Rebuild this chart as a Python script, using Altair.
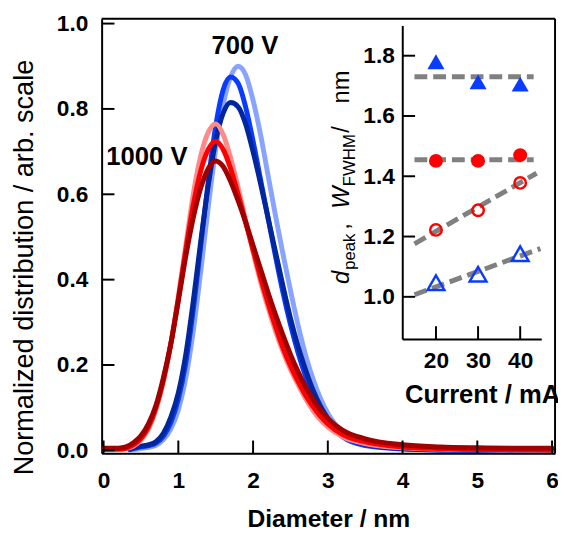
import altair as alt
import pandas as pd

FONT = "Liberation Sans"

# ---------------- main chart data ----------------
diam_1000 = [0.0, 0.2, 0.3, 0.4, 0.5, 0.6, 0.7, 0.8, 0.9, 1.0, 1.1, 1.2, 1.3,
             1.4, 1.5, 1.6, 1.7, 1.8, 1.9, 2.0, 2.1, 2.2, 2.3,
             2.4, 2.5, 2.6, 2.7, 2.8, 2.9, 3.0,
             3.2, 3.5, 4.0, 4.5, 5.0, 5.5, 6.0]
diam_700 = [0.35, 0.4, 0.5, 0.6, 0.7, 0.8, 0.9, 1.0, 1.1, 1.2, 1.3,
            1.4, 1.5, 1.6, 1.7, 1.8, 1.9, 2.0, 2.1, 2.2, 2.3,
            2.4, 2.5, 2.6, 2.7, 2.8, 2.9, 3.0,
            3.2, 3.5, 4.0, 4.5, 5.0, 5.5, 6.0]

v700_20 = [0.001, 0.002, 0.004, 0.007, 0.012, 0.025, 0.05, 0.095, 0.17, 0.28,
           0.42, 0.57, 0.705, 0.81, 0.875, 0.9, 0.88, 0.82, 0.74, 0.645,
           0.55, 0.46, 0.375, 0.295, 0.225, 0.168, 0.122, 0.087, 0.042, 0.015,
           0.004, 0.001, 0.001, 0.0, 0.0]
v700_30 = [0.002, 0.004, 0.008, 0.011, 0.017, 0.033, 0.065, 0.12, 0.205, 0.33,
           0.48, 0.63, 0.76, 0.845, 0.875, 0.86, 0.805, 0.725, 0.635, 0.545,
           0.455, 0.37, 0.295, 0.23, 0.175, 0.13, 0.093, 0.065, 0.031, 0.011,
           0.003, 0.001, 0.0, 0.0, 0.0]
v700_40 = [0.003, 0.006, 0.01, 0.013, 0.02, 0.04, 0.078, 0.135, 0.225, 0.35,
           0.49, 0.62, 0.725, 0.79, 0.815, 0.805, 0.765, 0.7, 0.625, 0.545,
           0.465, 0.385, 0.31, 0.245, 0.19, 0.142, 0.104, 0.075, 0.037, 0.014,
           0.004, 0.001, 0.001, 0.0, 0.0]

v1000_20 = [0.002, 0.002, 0.004,
            0.01, 0.024, 0.05, 0.095, 0.16, 0.25, 0.36, 0.48, 0.6, 0.69,
            0.745, 0.765, 0.74, 0.685, 0.615, 0.54, 0.465, 0.395, 0.335, 0.28,
            0.232, 0.19, 0.155, 0.122, 0.094, 0.072, 0.055,
            0.032, 0.016, 0.006, 0.003, 0.002, 0.001, 0.001]
v1000_30 = [0.003, 0.003, 0.005,
            0.013, 0.028, 0.055, 0.1, 0.165, 0.25, 0.355, 0.47, 0.575, 0.655,
            0.705, 0.724, 0.705, 0.66, 0.6, 0.535, 0.47, 0.405, 0.345, 0.29,
            0.24, 0.198, 0.162, 0.13, 0.103, 0.08, 0.062,
            0.037, 0.02, 0.008, 0.004, 0.002, 0.002, 0.001]
v1000_40 = [0.005, 0.005, 0.008,
            0.018, 0.034, 0.062, 0.105, 0.17, 0.25, 0.35, 0.455, 0.545, 0.615,
            0.66, 0.678, 0.665, 0.63, 0.585, 0.535, 0.48, 0.425, 0.37, 0.318,
            0.27, 0.225, 0.185, 0.15, 0.12, 0.095, 0.075,
            0.047, 0.027, 0.013, 0.008, 0.006, 0.005, 0.005]

series = [
    ("700 V 20 mA", diam_700, v700_20, "#88a4ff"),
    ("700 V 30 mA", diam_700, v700_30, "#0a3cff"),
    ("700 V 40 mA", diam_700, v700_40, "#00279e"),
    ("1000 V 20 mA", diam_1000, v1000_20, "#ff8a8a"),
    ("1000 V 30 mA", diam_1000, v1000_30, "#ff0000"),
    ("1000 V 40 mA", diam_1000, v1000_40, "#a00000"),
]

x_ticks = [0, 1, 2, 3, 4, 5, 6]
y_ticks = [0.0, 0.2, 0.4, 0.6, 0.8, 1.0]

ann_text = ["700 V", "1000 V"]
ann_x = [1.892, 0.58]
ann_y = [0.948, 0.686]

# inset y-title pieces (main-plot data coordinates)
tit_it_text = ["d", "W"]
tit_it_y = [0.390, 0.566]
tit_sub_text = ["peak", "FWHM"]
tit_sub_y = [0.423, 0.619]
tit_norm_text = [",", "/", "nm"]
tit_norm_y = [0.517, 0.744, 0.813]
tit_x_main = 3.284
tit_x_sub = 3.363

# ---------------- inset data ----------------
current = [20, 30, 40]
dpeak_700 = [1.78, 1.713, 1.706]
dpeak_1000 = [1.451, 1.451, 1.47]
wfwhm_1000 = [1.222, 1.287, 1.378]
wfwhm_700 = [1.047, 1.075, 1.143]

fit_x0 = [14.9, 14.9, 14.9, 14.9]
fit_x1 = [43.2, 43.2, 43.9, 44.8]
fit_y0 = [1.73, 1.455, 1.176, 1.007]
fit_y1 = [1.73, 1.455, 1.41, 1.16]

in_x_ticks = [20, 30, 40]
in_y_ticks = [1.0, 1.2, 1.4, 1.6, 1.8]

# ---------------- geometry ----------------
W, H = 460, 441
TICK = 13
IN_LEFT = 305
IN_RIGHT = 446
IN_BOTTOM = 325
IN_TOP = 7

XDOM = [-0.026, 6.04]
YDOM = [-0.007, 1.0115]
IXDOM = [12, 45]
IYDOM = [0.86, 1.9]

xs_main = alt.Scale(domain=XDOM, nice=False, zero=False)
ys_main = alt.Scale(domain=YDOM, nice=False, zero=False)
xs_in = alt.Scale(domain=IXDOM, range=[IN_LEFT, IN_RIGHT], nice=False, zero=False)
ys_in = alt.Scale(domain=IYDOM, range=[IN_BOTTOM, IN_TOP], nice=False, zero=False)

# tick lengths expressed in each scale's units
tl_main_y = TICK * (YDOM[1] - YDOM[0]) / H
tl_main_x = TICK * (XDOM[1] - XDOM[0]) / W
tl_in_y = TICK * (IYDOM[1] - IYDOM[0]) / (IN_BOTTOM - IN_TOP)
tl_in_x = TICK * (IXDOM[1] - IXDOM[0]) / (IN_RIGHT - IN_LEFT)

SOLID_SHORT = [20, 1]
SOLID_LONG = [3000, 1]

lab = dict(labelFont=FONT, labelFontSize=23, labelFontWeight="bold", labelColor="black")

ax_x_main = alt.Axis(orient="bottom", values=x_ticks, format="d", ticks=False,
                     domain=True, domainColor="black", domainWidth=2, grid=False,
                     labelPadding=17, title="Diameter / nm", titleFont=FONT,
                     titleFontSize=25, titleFontWeight="bold", titleColor="black",
                     titlePadding=14, **lab)
ax_y_main = alt.Axis(orient="left", values=y_ticks, format=".1f", ticks=False,
                     domain=True, domainColor="black", domainWidth=2, grid=False,
                     labelPadding=14, title="Normalized distribution / arb. scale",
                     titleFont=FONT, titleFontSize=27.5, titleFontWeight="normal",
                     titleColor="black", titleX=-64, titleY=252, **lab)


def MX(axis=None, f="x"):
    return alt.X(f"{f}:Q", scale=xs_main, axis=axis)


def MY(axis=None, f="y"):
    return alt.Y(f"{f}:Q", scale=ys_main, axis=axis)


layers = []
for i, (name, xv, yv, col) in enumerate(series):
    df = pd.DataFrame({"x": xv, "y": yv})
    enc = dict(x=MX(ax_x_main), y=MY(ax_y_main)) if i == 0 else dict(x=MX(), y=MY())
    layers.append(
        alt.Chart(df).mark_line(color=col, strokeWidth=5, interpolate="monotone",
                                strokeCap="round", strokeJoin="round").encode(**enc)
    )

# inward tick marks of the main axes
xt_df = pd.DataFrame({"x": x_ticks, "y": [YDOM[0]] * len(x_ticks),
                      "y2": [YDOM[0] + tl_main_y] * len(x_ticks)})
layers.append(alt.Chart(xt_df).mark_rule(color="black", strokeWidth=2, strokeDash=SOLID_SHORT)
              .encode(x=MX(), y=MY(), y2="y2:Q"))
yt_df = pd.DataFrame({"y": y_ticks, "x": [XDOM[0]] * len(y_ticks),
                      "x2": [XDOM[0] + tl_main_x] * len(y_ticks)})
layers.append(alt.Chart(yt_df).mark_rule(color="black", strokeWidth=2, strokeDash=SOLID_SHORT)
              .encode(y=MY(), x=MX(), x2="x2:Q"))

# top and right edges of the plot frame
frame_df = pd.DataFrame({"x": [XDOM[0], XDOM[1]], "x2": [XDOM[1], XDOM[1]],
                         "y": [YDOM[1], YDOM[0]], "y2": [YDOM[1], YDOM[1]]})
layers.append(alt.Chart(frame_df).mark_rule(color="black", strokeWidth=2, strokeDash=SOLID_LONG)
              .encode(x=MX(), x2="x2:Q", y=MY(), y2="y2:Q"))

ann_df = pd.DataFrame({"x": ann_x, "y": ann_y, "t": ann_text})
layers.append(alt.Chart(ann_df).mark_text(font=FONT, fontSize=26, fontWeight="bold",
                                          color="black", align="center",
                                          baseline="middle").encode(x=MX(), y=MY(), text="t:N"))

it_df = pd.DataFrame({"x": [tit_x_main] * len(tit_it_text), "y": tit_it_y, "t": tit_it_text})
sub_df = pd.DataFrame({"x": [tit_x_sub] * len(tit_sub_text), "y": tit_sub_y, "t": tit_sub_text})
norm_df = pd.DataFrame({"x": [tit_x_main] * len(tit_norm_text), "y": tit_norm_y, "t": tit_norm_text})
layers.append(alt.Chart(it_df).mark_text(font=FONT, fontSize=24, fontStyle="italic",
                                         color="black", angle=270, align="left",
                                         baseline="alphabetic").encode(x=MX(), y=MY(), text="t:N"))
layers.append(alt.Chart(sub_df).mark_text(font=FONT, fontSize=17, color="black",
                                          angle=270, align="left",
                                          baseline="alphabetic").encode(x=MX(), y=MY(), text="t:N"))
layers.append(alt.Chart(norm_df).mark_text(font=FONT, fontSize=24, color="black",
                                           angle=270, align="left",
                                           baseline="alphabetic").encode(x=MX(), y=MY(), text="t:N"))

# ---------------- inset ----------------
ax_x_in = alt.Axis(orient="bottom", values=in_x_ticks, format="d", offset=-(H - IN_BOTTOM),
                   ticks=False, domain=True, domainColor="black", domainWidth=2, grid=False,
                   labelPadding=11, title="Current / mA", titleFont=FONT, titleFontSize=26,
                   titleFontWeight="bold", titleColor="black", titlePadding=9,
                   titleX=386, **lab)
ax_y_in = alt.Axis(orient="left", values=in_y_ticks, format=".1f", offset=-IN_LEFT,
                   ticks=False, domain=True, domainColor="black", domainWidth=2, grid=False,
                   labelPadding=8, title=None, **lab)


def IX(axis=None, f="c"):
    return alt.X(f"{f}:Q", scale=xs_in, axis=axis)


def IY(axis=None, f="v"):
    return alt.Y(f"{f}:Q", scale=ys_in, axis=axis)


fit_df = pd.DataFrame({"c": fit_x0, "c2": fit_x1, "v": fit_y0, "v2": fit_y1})
layers.append(alt.Chart(fit_df).mark_rule(color="#808080", strokeWidth=5,
                                          strokeDash=[13, 6]).encode(
    x=IX(ax_x_in), x2="c2:Q", y=IY(ax_y_in), y2="v2:Q"))

ixt_df = pd.DataFrame({"c": in_x_ticks, "v": [IYDOM[0]] * len(in_x_ticks),
                       "v2": [IYDOM[0] + tl_in_y] * len(in_x_ticks)})
layers.append(alt.Chart(ixt_df).mark_rule(color="black", strokeWidth=2, strokeDash=SOLID_SHORT)
              .encode(x=IX(), y=IY(), y2="v2:Q"))
iyt_df = pd.DataFrame({"v": in_y_ticks, "c": [IXDOM[0]] * len(in_y_ticks),
                       "c2": [IXDOM[0] + tl_in_x] * len(in_y_ticks)})
layers.append(alt.Chart(iyt_df).mark_rule(color="black", strokeWidth=2, strokeDash=SOLID_SHORT)
              .encode(y=IY(), x=IX(), x2="c2:Q"))


def pts(vals, shape, color, filled, size, sw=0):
    df = pd.DataFrame({"c": current, "v": vals})
    if filled:
        m = alt.Chart(df).mark_point(shape=shape, filled=True, fill=color, color=color,
                                     size=size, opacity=1, strokeWidth=0)
    else:
        m = alt.Chart(df).mark_point(shape=shape, filled=False, stroke=color, color=color,
                                     size=size, opacity=1, strokeWidth=sw)
    return m.encode(x=IX(), y=IY())


layers.append(pts(dpeak_700, "triangle-up", "#0a3cff", True, 300))
layers.append(pts(dpeak_1000, "circle", "#ff0000", True, 200))
layers.append(pts(wfwhm_1000, "circle", "#ff0000", False, 135, 2.5))
layers.append(pts(wfwhm_700, "triangle-up", "#0a3cff", False, 290, 2.5))

chart = alt.layer(*layers).resolve_scale(
    x="independent", y="independent"
).resolve_axis(
    x="independent", y="independent"
).properties(
    width=W, height=H,
    autosize=alt.AutoSizeParams(type="none"),
    padding={"left": 95, "top": 7, "right": 3, "bottom": 78},
)

chart.save("out.html", embed_options={"renderer": "svg", "actions": False})
